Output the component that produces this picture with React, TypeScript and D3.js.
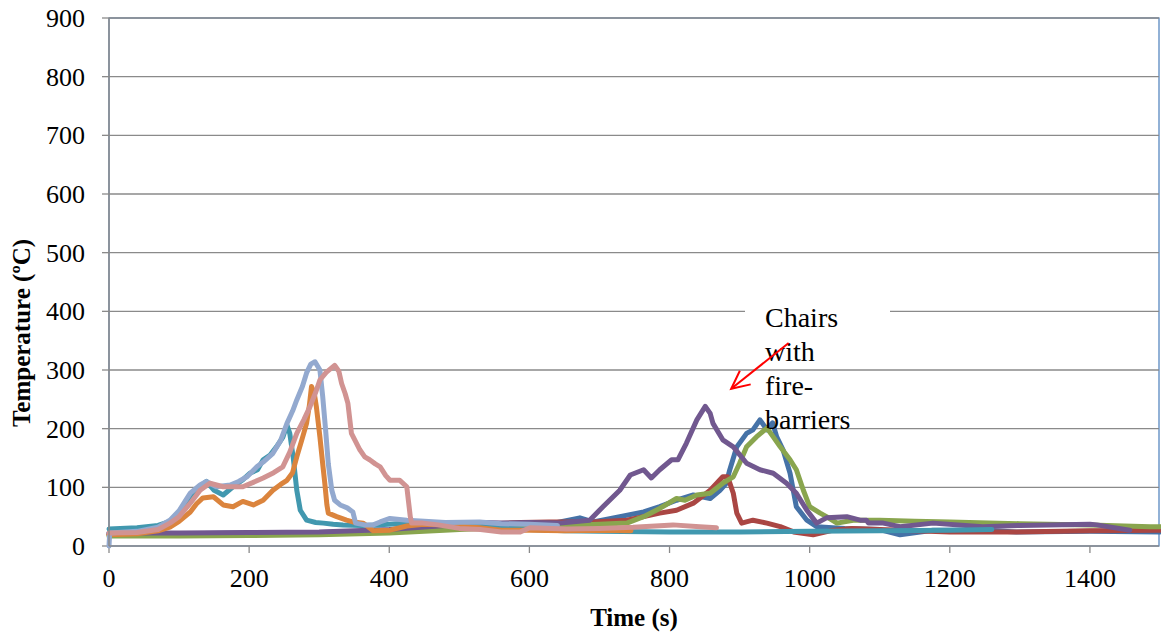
import React from "react";
import * as d3 from "d3";

const xTicks = [0, 200, 400, 600, 800, 1000, 1200, 1400];
const yTicks = [0, 100, 200, 300, 400, 500, 600, 700, 800, 900];
const xTitle = "Time (s)";
const yTitle = "Temperature (ºC)";
const noteLines = ["Chairs", "with", "fire-", "barriers"];

// [time s, temperature °C]
const blue: [number, number][] = [[0,21],[100,21],[200,22],[300,23],[400,26],[500,30],[600,36],[640,40],[672,48],[691,41],[729,50],[763,58],[786,67],[810,78],[834,87],[858,81],[872,95],[881,107],[886,130],[896,169],[910,192],[919,198],[929,215],[935,205],[939,198],[947,210],[953,186],[962,164],[972,124],[981,67],[996,44],[1010,33],[1050,30],[1100,28],[1129,19],[1176,27],[1250,27],[1295,24],[1400,25],[1500,24]];
const red: [number, number][] = [[0,19],[100,20],[200,21],[300,22],[400,26],[450,30],[500,34],[550,38],[587,40],[628,41],[691,41],[739,44],[786,56],[810,61],[834,73],[858,95],[876,118],[883,118],[891,90],[896,56],[903,39],[919,44],[939,39],[958,33],[977,24],[1005,19],[1034,27],[1060,30],[1100,28],[1200,24],[1295,24],[1400,26],[1500,27]];
const green: [number, number][] = [[0,17],[100,17],[200,18],[300,19],[400,22],[500,28],[600,33],[700,37],[739,39],[763,50],[786,64],[810,81],[822,78],[839,87],[858,90],[876,107],[891,118],[900,141],[910,169],[924,186],[939,201],[948,186],[958,169],[972,147],[981,130],[991,95],[1000,67],[1015,56],[1024,50],[1039,39],[1062,44],[1100,44],[1150,42],[1200,41],[1300,38],[1400,36],[1486,33],[1500,33]];
const purple: [number, number][] = [[0,22],[100,22],[200,23],[300,24],[400,28],[480,35],[530,40],[560,39],[600,40],[644,39],[686,44],[705,67],[729,95],[744,121],[763,130],[774,116],[786,130],[803,147],[812,147],[824,175],[839,215],[851,238],[858,226],[862,209],[876,181],[891,169],[910,141],[929,130],[948,124],[967,107],[981,90],[996,61],[1010,39],[1024,48],[1053,50],[1072,44],[1081,44],[1084,39],[1105,39],[1129,33],[1176,39],[1247,33],[1300,35],[1400,37],[1410,36],[1457,27]];
const teal: [number, number][] = [[0,29],[40,31],[70,35],[85,41],[100,55],[116,84],[130,102],[139,110],[150,95],[163,87],[177,101],[190,112],[201,124],[212,130],[220,147],[230,155],[239,169],[248,185],[254,206],[258,192],[263,150],[268,95],[273,61],[282,44],[295,40],[306,39],[320,37],[334,36],[360,35],[387,36],[410,38],[434,39],[470,38],[500,37],[550,32],[600,28],[650,26],[700,25],[800,24],[900,24],[1000,25],[1100,26],[1200,27],[1260,28]];
const orange: [number, number][] = [[0,19],[40,21],[70,26],[87,32],[100,42],[116,58],[125,72],[134,82],[149,84],[163,70],[177,67],[191,76],[206,70],[220,78],[234,95],[245,105],[254,112],[262,125],[268,152],[275,180],[282,209],[286,240],[289,272],[293,260],[296,237],[301,186],[305,140],[308,107],[311,70],[313,56],[325,50],[339,44],[348,41],[363,39],[377,26],[401,27],[425,34],[449,37],[482,36],[529,31],[560,27],[600,27],[650,26],[700,27],[745,26]];
const lightBlue: [number, number][] = [[0,0],[1,22],[40,25],[70,32],[87,44],[100,60],[116,90],[130,104],[139,110],[153,101],[173,104],[185,110],[197,118],[211,135],[222,145],[234,158],[245,180],[254,209],[262,230],[268,249],[276,272],[282,295],[288,310],[294,314],[301,300],[305,255],[309,200],[313,140],[318,95],[322,78],[330,70],[340,65],[348,58],[352,39],[365,36],[377,36],[387,41],[401,47],[425,44],[450,42],[480,40],[529,41],[560,38],[600,37],[640,35]];
const pink: [number, number][] = [[0,22],[40,23],[70,28],[87,39],[100,50],[116,73],[130,95],[144,107],[163,101],[191,101],[205,108],[220,116],[235,125],[248,135],[258,160],[268,192],[278,215],[287,238],[295,262],[301,283],[310,296],[322,308],[328,298],[332,277],[337,260],[341,243],[346,192],[352,178],[358,164],[365,152],[372,147],[380,140],[387,135],[395,120],[401,112],[415,112],[425,101],[430,50],[432,39],[448,39],[470,36],[500,30],[530,28],[560,24],[587,24],[601,31],[653,29],[700,30],[748,32],[805,36],[843,33],[867,31]];

const seriesList = [
  { data: blue, color: "#4572A7" },
  { data: red, color: "#AA4643" },
  { data: green, color: "#89A54E" },
  { data: purple, color: "#71588F" },
  { data: teal, color: "#4198AF" },
  { data: orange, color: "#DB843D" },
  { data: lightBlue, color: "#93A9CF" },
  { data: pink, color: "#D19392" },
];

// annotation arrow in data units: tail -> tip
const arrowTail: [number, number] = [970, 346];
const arrowTip: [number, number] = [888, 268];

const FONT = "'Liberation Serif', 'Times New Roman', Times, serif";

export default function App() {
  const W = 1161, H = 635;
  const left = 109, right = 1159, top = 18, bottom = 546;
  const x = d3.scaleLinear().domain([0, 1500]).range([left, 1160]);
  const y = d3.scaleLinear().domain([0, 900]).range([bottom, top]);
  const line = d3.line<[number, number]>().x(d => x(d[0])).y(d => y(d[1]));

  const tx = x(arrowTail[0]), ty = y(arrowTail[1]);
  const hx = x(arrowTip[0]), hy = y(arrowTip[1]);
  const ang = Math.atan2(hy - ty, hx - tx);
  const hl = 20, ha = 0.45;
  const w1 = [hx - hl * Math.cos(ang - ha), hy - hl * Math.sin(ang - ha)];
  const w2 = [hx - hl * Math.cos(ang + ha), hy - hl * Math.sin(ang + ha)];

  const ts = { fontFamily: FONT };

  return (
    <svg width={W} height={H} style={{ position: "absolute", left: 0, top: 0, background: "#fff" }}>
      <rect x={left} y={top} width={right - left} height={bottom - top} fill="#fff" stroke="#4A7EBB" strokeWidth={1.2} />
      {yTicks.filter(v => v > 0).map(v => (
        <line key={"g" + v} x1={left} x2={right} y1={y(v)} y2={y(v)} stroke="#8A8A8A" strokeWidth={1.3} />
      ))}
      {yTicks.map(v => (
        <g key={"yt" + v}>
          <line x1={left - 7} x2={left} y1={y(v)} y2={y(v)} stroke="#8A8A8A" strokeWidth={1.3} />
          <text x={85} y={y(v)} dy="0.35em" textAnchor="end" fontSize={26} fill="#000" style={ts}>{v}</text>
        </g>
      ))}
      {xTicks.map(v => (
        <g key={"xt" + v}>
          <line x1={x(v)} x2={x(v)} y1={bottom} y2={bottom + 7} stroke="#8A8A8A" strokeWidth={1.3} />
          <text x={x(v)} y={587} textAnchor="middle" fontSize={26} fill="#000" style={ts}>{v}</text>
        </g>
      ))}
      <rect x={745} y={296} width={145} height={50} fill="#fff" />
      {seriesList.map((s, i) => (
        <path key={i} d={line(s.data) || ""} fill="none" stroke={s.color} strokeWidth={5} strokeLinejoin="round" strokeLinecap="round" />
      ))}
      <line x1={left} x2={left} y1={top} y2={bottom} stroke="#8A8A8A" strokeWidth={1.5} />
      <line x1={left} x2={right} y1={bottom} y2={bottom} stroke="#8A8A8A" strokeWidth={1.5} />
      {noteLines.map((t, i) => (
        <text key={t} x={765} y={327 + i * 34} fontSize={28} fill="#000" style={ts}>{t}</text>
      ))}
      <line x1={tx} y1={ty} x2={hx} y2={hy} stroke="#FF0000" strokeWidth={2} />
      <polyline points={`${w1[0]},${w1[1]} ${hx},${hy} ${w2[0]},${w2[1]}`} fill="none" stroke="#FF0000" strokeWidth={2} />
      <text x={634} y={626} textAnchor="middle" fontSize={25} fontWeight="bold" fill="#000" style={ts}>{xTitle}</text>
      <text transform="translate(30,333) rotate(-90)" textAnchor="middle" fontSize={25} fontWeight="bold" fill="#000" style={ts}>{yTitle}</text>
    </svg>
  );
}
